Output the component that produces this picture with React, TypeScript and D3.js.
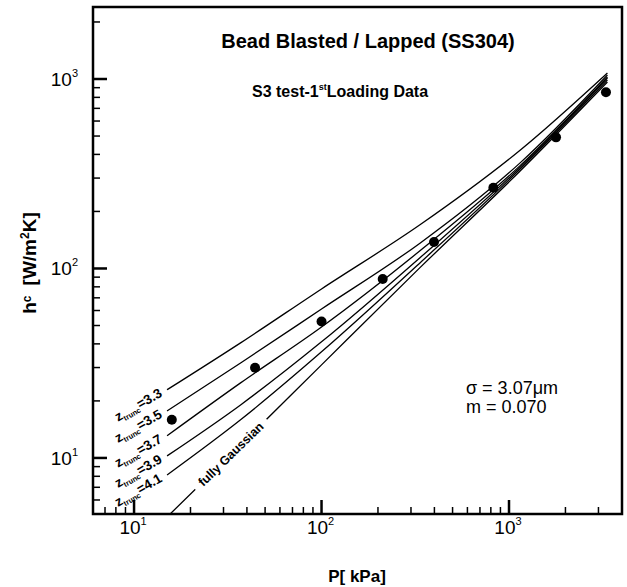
import React from 'react';
import * as d3 from 'd3';

// pressure grid of the model curves [kPa]
const P_GRID = [15, 37, 100, 335, 1150, 3350];
// model curves, h_c [W/m2K]
const H_Z33 = [22.9, 40.5, 78.0, 170, 422, 1076];
const H_Z35 = [17.7, 31.7, 61.1, 136, 362, 1050];
const H_Z37 = [13.1, 24.9, 49.1, 124, 350, 1025];
const H_Z39 = [10.25, 19.05, 41.0, 114, 343, 1012];
const H_Z41 = [8.13, 15.9, 36.3, 107, 336, 988];
const H_GAUSS = [4.88, 11.7, 31.0, 101, 328, 964];
const TRUNC_LABELS = ['3.3', '3.5', '3.7', '3.9', '4.1'];

// measured points (1st loading)
const P_DATA = [15.9, 44.2, 100, 212, 398, 825, 1782, 3290];
const H_DATA = [15.9, 29.9, 52.5, 88, 138, 267, 492, 851];

const X_TICKS = [10, 100, 1000];
const Y_TICKS = [10, 100, 1000];
const X_MINOR = [7, 8, 9, 20, 30, 40, 50, 60, 70, 80, 90, 200, 300, 400, 500, 600, 700, 800, 900, 2000, 3000];
const Y_MINOR = [6, 7, 8, 9, 20, 30, 40, 50, 60, 70, 80, 90, 200, 300, 400, 500, 600, 700, 800, 900, 2000];

const width = 627;
const height = 587;
const margin = { top: 7, right: 5, bottom: 73, left: 93 };
const FONT = '"Liberation Sans", Arial, Helvetica, sans-serif';

const App = () => {
  const x = d3.scaleLog().domain([6.04, 4006]).range([margin.left, width - margin.right]);
  const y = d3.scaleLog().domain([5.06, 2399]).range([height - margin.bottom, margin.top]);
  const x0 = margin.left;
  const x1 = width - margin.right;
  const y0 = height - margin.bottom;
  const y1 = margin.top;

  const line = d3.line<number>()
    .x((_, i) => x(P_GRID[i]))
    .y(d => y(d))
    .curve(d3.curveMonotoneX);

  const truncCurves = [H_Z33, H_Z35, H_Z37, H_Z39, H_Z41];

  // position of the "fully Gaussian" label along its curve
  const gx1 = x(P_GRID[0]), gy1 = y(H_GAUSS[0]);
  const gx2 = x(P_GRID[1]), gy2 = y(H_GAUSS[1]);
  const t = 0.87;
  const gcx = gx1 + (gx2 - gx1) * t;
  const gcy = gy1 + (gy2 - gy1) * t;
  const gAngle = Math.atan2(gy2 - gy1, gx2 - gx1) * 180 / Math.PI;

  return (
    <svg width={width} height={height} style={{ position: 'absolute', left: 0, top: 0, background: '#fff' }} fontFamily={FONT}>
      <defs>
        <clipPath id="plot">
          <rect x={x0} y={y1} width={x1 - x0} height={y0 - y1} />
        </clipPath>
      </defs>
      <rect width={width} height={height} fill="#fff" />

      {/* curves */}
      <g clipPath="url(#plot)" fill="none" stroke="#000" strokeWidth={1.3}>
        {truncCurves.map((c, i) => <path key={i} d={line(c) || ''} />)}
        <path d={line(H_GAUSS) || ''} />
      </g>

      {/* curve labels */}
      {truncCurves.map((c, i) => {
        const lx = x(P_GRID[0]) - 4;
        const ly = y(c[0]) + 6;
        return (
          <text key={i} transform={`translate(${lx},${ly}) rotate(-30)`} textAnchor="end" fontSize={13.5} fontWeight="bold">
            z<tspan fontSize={7.5} dy={3}>trunc</tspan><tspan dy={-3}>={TRUNC_LABELS[i]}</tspan>
          </text>
        );
      })}
      <g transform={`translate(${gcx},${gcy}) rotate(${gAngle})`}>
        <rect x={-50} y={-8} width={100} height={16} fill="#fff" />
        <text textAnchor="middle" dy={4} fontSize={12.5} fontWeight="bold">fully Gaussian</text>
      </g>

      {/* data points */}
      {P_DATA.map((p, i) => (
        <circle key={i} cx={x(p)} cy={y(H_DATA[i])} r={5} fill="#000" />
      ))}

      {/* ticks */}
      <g stroke="#000">
        {X_MINOR.map(v => <line key={'xm' + v} x1={x(v)} x2={x(v)} y1={y0} y2={y0 - 7} strokeWidth={1.5} />)}
        {X_TICKS.map(v => <line key={'xt' + v} x1={x(v)} x2={x(v)} y1={y0} y2={y0 - 14} strokeWidth={2.5} />)}
        {Y_MINOR.map(v => <line key={'ym' + v} x1={x0} x2={x0 + 7} y1={y(v)} y2={y(v)} strokeWidth={1.5} />)}
        {Y_TICKS.map(v => <line key={'yt' + v} x1={x0} x2={x0 + 14} y1={y(v)} y2={y(v)} strokeWidth={2.5} />)}
      </g>
      <rect x={x0} y={y1} width={x1 - x0} height={y0 - y1} fill="none" stroke="#000" strokeWidth={2.5} />

      {/* tick labels */}
      {X_TICKS.map(v => (
        <text key={'xl' + v} x={x(v) - 1} y={y0 + 20} textAnchor="middle" fontSize={19}>
          10<tspan fontSize={11} dy={-9}>{Math.round(Math.log10(v))}</tspan>
        </text>
      ))}
      {Y_TICKS.map(v => (
        <text key={'yl' + v} x={x0 - 15} y={y(v) + 7} textAnchor="end" fontSize={19}>
          10<tspan fontSize={11} dy={-9}>{Math.round(Math.log10(v))}</tspan>
        </text>
      ))}

      {/* axis titles */}
      <text x={357} y={582} textAnchor="middle" fontSize={17} fontWeight="bold">P[ kPa]</text>
      <text transform="translate(36,263) rotate(-90)" textAnchor="middle" fontSize={19} fontWeight="bold">
        h<tspan fontSize={12} dy={-5}>c</tspan><tspan dx={10} dy={5}>[W/m</tspan><tspan fontSize={12} dy={-7}>2</tspan><tspan dy={7}>K]</tspan>
      </text>

      {/* titles and notes */}
      <text x={368} y={48} textAnchor="middle" fontSize={20} fontWeight="bold">Bead Blasted / Lapped (SS304)</text>
      <text x={252} y={97} fontSize={16} fontWeight="bold">
        S3 test-1<tspan fontSize={9} dy={-7}>st</tspan><tspan dy={7}>Loading Data</tspan>
      </text>
      <text x={466} y={394} fontSize={18}>σ = 3.07μm</text>
      <text x={466} y={413} fontSize={18}>m = 0.070</text>
    </svg>
  );
};

export default App;
